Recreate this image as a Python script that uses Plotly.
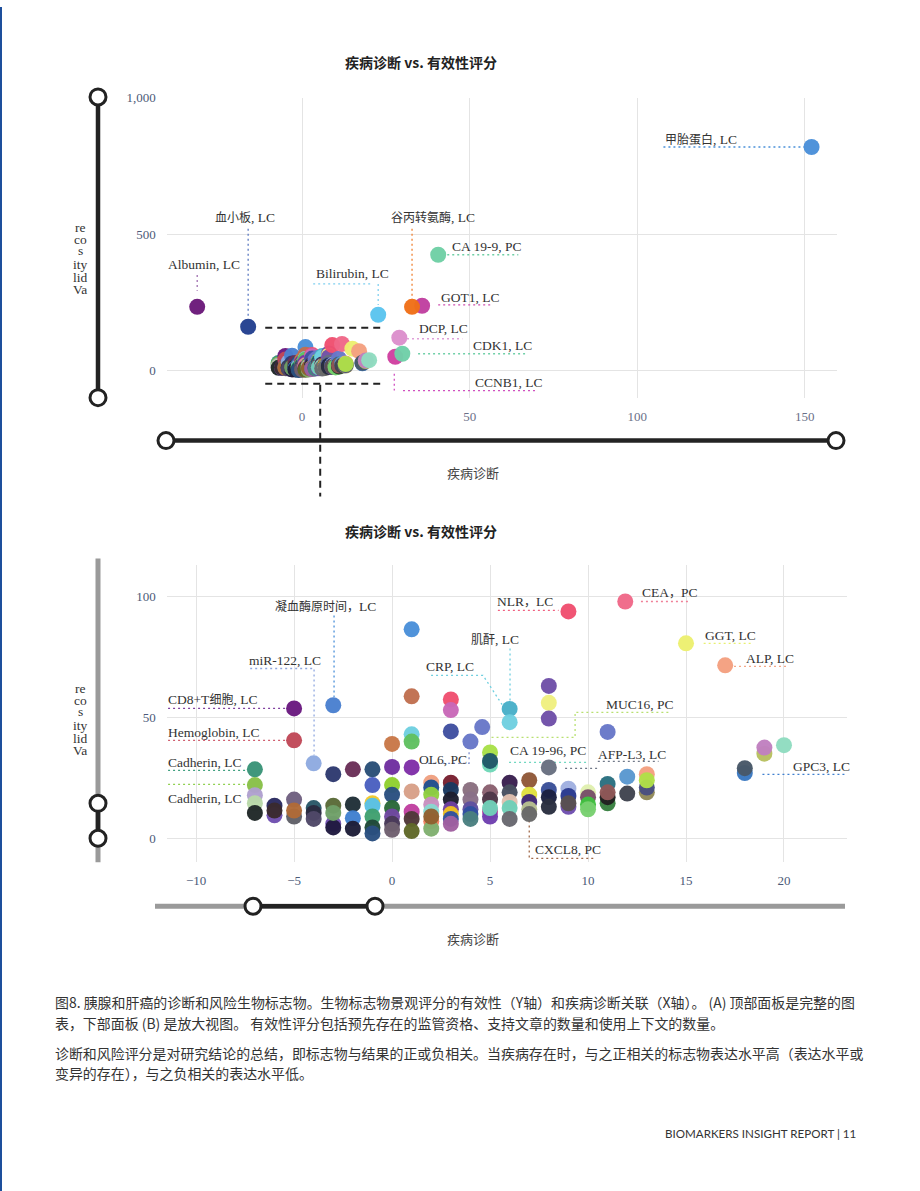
import re
import plotly.graph_objects as go

W, H = 920, 1191

# ---------------- data ----------------
point_x = [152, 40.6, -31.3, -16.1, 22.7, 35.8, 32.8, 29.0, 27.8, 29.9,
           -7, -7, -7, -7, -7,
           -6, -6, -6,
           -5, -5, -5, -5, -5,
           -4, -4, -4, -4,
           -3, -3, -3, -3, -3, -3,
           -2, -2, -2, -2,
           -1, -1, -1, -1, -1, -1, -1,
           0, 0, 0, 0, 0, 0, 0, 0,
           1, 1, 1, 1, 1, 1, 1, 1, 1,
           2, 2, 2, 2, 2, 2, 2, 2,
           3, 3, 3, 3, 3, 3, 3, 3, 3, 3,
           4, 4.6, 4, 4, 4, 4, 4,
           5, 5, 5, 5, 5, 5, 5, 5,
           6, 6, 6, 6, 6, 6, 6,
           7, 7, 7, 7, 7,
           8, 8, 8, 8, 8, 8, 8,
           9, 9, 9, 9, 9,
           10, 10, 10, 10,
           11, 11, 11, 11, 11,
           12, 12, 11.9,
           13, 13, 13, 13,
           15, 17, 18, 18, 19, 19, 20]
point_y = [820, 425, 234, 161, 205, 238, 234, 121, 51, 62,
           28.5, 22, 17.8, 14.5, 10.5,
           13.5, 9.5, 11.5,
           53.7, 40.5, 16, 9, 11.5,
           31, 12.5, 10.5, 8,
           55, 26.5, 13.5, 6, 4.5, 10.5,
           28.5, 14, 8.3, 4,
           28.5, 22, 14.5, 13.5, 9, 4.5, 2,
           39, 29.5, 22, 18, 12.5, 9, 6, 3.5,
           86.4, 58.7, 43, 40, 29.3, 19.4, 11, 8, 3,
           23, 21, 18, 14, 11, 7, 4, 9,
           57.4, 53, 44.2, 23, 20, 16, 12, 10, 8, 6,
           40, 46, 20, 16, 12, 10, 8,
           35.5, 30.5, 32, 19, 16, 11, 9, 12.5,
           53.5, 48, 23, 19, 15, 12.5, 8,
           24, 18, 15, 12, 10,
           63, 56, 49.5, 29.3, 20, 17, 13,
           93.8, 20.5, 17.5, 13, 14.5,
           19, 17, 14, 12,
           44, 22.5, 14.5, 17, 19,
           25.5, 18.5, 97.9,
           26.5, 19, 21, 24,
           80.6, 71.5, 27, 29, 35, 37.5, 38.5]
point_color = ["#4a90d9", "#6fcfa5", "#6b1a7a", "#23408f", "#5bc4ee", "#c040a0", "#f07018", "#dc90cc", "#d040a0", "#70d0a8",
               "#3a9478", "#88c048", "#b0a0d0", "#b8d8a8", "#202828",
               "#2a2a60", "#7050b0", "#3a2a2e",
               "#6a1a80", "#c04858", "#706080", "#606068", "#b06a38",
               "#8eaae0", "#2a5868", "#2a2a40", "#504868",
               "#4a80d0", "#2e3a70", "#5a6a38", "#7050b0", "#201a40", "#70a068",
               "#6a3058", "#203038", "#4080d0", "#1e1e38",
               "#2a5078", "#4a60c0", "#f0c830", "#58c0e8", "#40a070", "#204838", "#2a5080",
               "#c87848", "#7030a0", "#90d030", "#2a5080", "#2a6838", "#7048a0", "#483a58", "#706070",
               "#4a90d9", "#c07050", "#70d0e0", "#60c060", "#8030a8", "#d8a088", "#c040a0", "#503838", "#606828",
               "#f0a080", "#205090", "#90d040", "#c890c0", "#88d8d0", "#f08060", "#80b070", "#906030",
               "#f05070", "#c868b8", "#4050a0", "#782030", "#1a3860", "#1e1e30", "#7040a0", "#f0c020", "#3050a0", "#a060a0",
               "#6878c8", "#6878c8", "#8a7080", "#8a7088", "#6050a0", "#3050a0", "#4a8080",
               "#a8e048", "#70d8b8", "#205868", "#8a6070", "#503848", "#c040a0", "#7040b0", "#70d0b8",
               "#48b0c8", "#70d0e0", "#3a2050", "#485060", "#e0c0b0", "#70d0b8", "#686870",
               "#905838", "#e0e040", "#402878", "#b8c090", "#686868",
               "#7050a8", "#f0f080", "#7050a8", "#687080", "#3a5098", "#1a2040", "#2a3040",
               "#f05070", "#a0b0e0", "#2a3a90", "#7050b0", "#585050",
               "#e0f0b0", "#785068", "#40c040", "#78d070",
               "#6878c8", "#2a7080", "#388040", "#202020", "#905858",
               "#5a98d0", "#404450", "#f06888",
               "#f4a080", "#908858", "#485080", "#b0e048",
               "#ecf070", "#f4a080", "#3a78c0", "#485868", "#b8c060", "#c080c0", "#90dcc0"]

# labels (text, x, y, anchor)
top_label_text = ["甲胎蛋白, LC", "CA 19-9, PC", "血小板, LC", "谷丙转氨酶, LC", "Albumin, LC",
                  "Bilirubin, LC", "GOT1, LC", "DCP, LC", "CDK1, LC", "CCNB1, LC"]
top_label_x = [108.4, 44.8, -17.0, 39.1, -29.3, 14.9, 41.5, 34.9, 51.0, 51.6]
top_label_y = [849, 454, 560, 560, 388, 355, 267, 154, 91.5, -44]
top_label_anchor = ["left", "left", "center", "center", "center", "center", "left", "left", "left", "left"]

bot_label_text = ["CEA，PC", "NLR，LC", "凝血酶原时间，LC", "肌酐, LC", "CRP, LC", "miR-122, LC",
                  "GGT, LC", "ALP, LC", "MUC16, PC", "CD8+T细胞, LC", "Hemoglobin, LC",
                  "Cadherin, LC", "Cadherin, LC", "OL6, PC", "CA 19-96, PC", "AFP-L3, LC",
                  "CXCL8, PC", "GPC3, LC"]
bot_label_x = [12.76, 5.36, -3.42, 5.26, 2.96, -5.46, 15.97, 18.06, 10.9, -11.43, -11.43,
               -11.43, -11.43, 1.38, 6.02, 10.5, 7.3, 20.46]
bot_label_y = [101.7, 97.9, 95.9, 82.2, 71.1, 73.6, 83.9, 74.4, 55.4, 57.4, 43.8,
               31.4, 16.5, 32.6, 36.4, 34.7, -4.5, 29.8]
bot_label_anchor = ["left", "left", "center", "center", "center", "center", "left", "left", "left",
                    "left", "left", "left", "left", "left", "left", "left", "left", "left"]

# leader lines (colour, polyline points in data units)
top_leaders = [
    ("#4a90d9", [(107.8, 820), (150, 820)]),
    ("#6fcfa5", [(43.3, 425), (64.5, 425)]),
    ("#5a78c0", [(-16.1, 520), (-16.1, 198)]),
    ("#f08030", [(32.8, 520), (32.8, 263)]),
    ("#a070b0", [(-31.3, 351), (-31.3, 293)]),
    ("#80d0f0", [(3.3, 318), (20.9, 318)]),
    ("#80d0f0", [(22.7, 318), (22.7, 241)]),
    ("#d050b0", [(40.6, 241), (57, 241)]),
    ("#e0a0d8", [(31.3, 117), (47.8, 117)]),
    ("#70d0a8", [(34.6, 62), (66.6, 62)]),
    ("#d050c0", [(27.5, -11), (27.5, -73)]),
    ("#d050c0", [(30.1, -73), (70.1, -73)]),
]
bot_leaders = [
    ("#f08098", [(12.7, 97.9), (15.1, 97.9)]),
    ("#f06080", [(5.4, 94.2), (8.5, 94.2)]),
    ("#4a90d9", [(-2.96, 92.1), (-2.96, 58.3)]),
    ("#70d0e0", [(6.02, 78.5), (6.02, 57)]),
    ("#70d0e0", [(1.99, 67.4), (4.64, 67.4), (5.71, 54.1)]),
    ("#90a8e0", [(-7.24, 70.2), (-3.98, 70.2), (-3.98, 34.3)]),
    ("#e8f070", [(15.9, 80.6), (18.3, 80.6)]),
    ("#f4a888", [(17.45, 71.1), (20.2, 71.1)]),
    ("#b8e070", [(14.1, 52.1), (9.34, 52.1), (9.34, 41.7), (5.05, 41.7)]),
    ("#8040a0", [(-11.43, 53.7), (-5.3, 53.7)]),
    ("#d06070", [(-11.43, 40.5), (-5.3, 40.5)]),
    ("#40a080", [(-11.43, 28.1), (-7.45, 28.1)]),
    ("#90d050", [(-11.43, 22.3), (-7.45, 22.3)]),
    ("#8090d0", [(1.84, 31), (3.93, 31), (3.93, 36.4)]),
    ("#70d8c0", [(5.97, 31.4), (9.9, 31.4)]),
    ("#707888", [(8.83, 28.9), (10.55, 28.9)]),
    ("#707888", [(10.5, 31.8), (13.6, 31.8)]),
    ("#a06848", [(7, 19.8), (7, -8.3), (10.4, -8.3)]),
    ("#4080d0", [(18.9, 26.4), (23.2, 26.4)]),
]

top_xticks = [0, 50, 100, 150]
top_yticks = [0, 500, 1000]
top_yticktext = ["0", "500", "1,000"]
bot_xticks = [-10, -5, 0, 5, 10, 15, 20]
bot_yticks = [0, 50, 100]

title_text = "<b>疾病诊断 vs. 有效性评分</b>"
xtitle_text = "疾病诊断"
ytitle_lines = ["re", "co", "s", "ity", "lid", "Va"]

caption_lines = [
    "图8. 胰腺和肝癌的诊断和风险生物标志物。生物标志物景观评分的有效性（Y轴）和疾病诊断关联（X轴）。 (A) 顶部面板是完整的图",
    "表，下部面板 (B) 是放大视图。 有效性评分包括预先存在的监管资格、支持文章的数量和使用上下文的数量。",
    "诊断和风险评分是对研究结论的总结，即标志物与结果的正或负相关。当疾病存在时，与之正相关的标志物表达水平高（表达水平或",
    "变异的存在），与之负相关的表达水平低。",
]
footer_text = "BIOMARKERS INSIGHT REPORT | 11"

# ---------------- helpers ----------------
def px(x):
    return x / W

def py(y):
    # empirical vertical correction for the rendered page
    return 1 - ((y - 6) / 0.995) / H

CJK_RUN = re.compile(r"([\u3000-\u303f\u4e00-\u9fff\uff00-\uffef]+)")

def label_markup(t):
    return CJK_RUN.sub(r'<span style="font-size:12px">\1</span>', t)

SERIF = "Liberation Serif, Noto Sans CJK SC, serif"
SANS = "Noto Sans CJK SC, Noto Sans, sans-serif"

fig = go.Figure()
for xa, ya in (("x", "y"), ("x2", "y2")):
    fig.add_trace(go.Scatter(
        x=point_x, y=point_y, mode="markers", xaxis=xa, yaxis=ya,
        marker=dict(size=16, color=point_color, opacity=0.97, line=dict(width=0)),
        hoverinfo="skip", showlegend=False))

axis_common = dict(showgrid=True, gridcolor="#e4e4e4", gridwidth=1, zeroline=False,
                   showline=False, ticks="", fixedrange=True)
fig.update_layout(
    width=W, height=H, margin=dict(l=0, r=0, t=0, b=0),
    plot_bgcolor="white", paper_bgcolor="white", showlegend=False,
    xaxis=dict(domain=[px(166.7), px(836.7)], range=[-40.4, 159.5], anchor="y",
               tickvals=top_xticks, tickfont=dict(family=SERIF, size=13, color="#6a7088"),
               ticklabelstandoff=9, **axis_common),
    yaxis=dict(domain=[py(397), py(96.7)], range=[-99, 1001], anchor="x",
               tickvals=top_yticks, ticktext=top_yticktext,
               tickfont=dict(family=SERIF, size=13, color="#4c5a78"),
               ticklabelstandoff=10, **axis_common),
    xaxis2=dict(domain=[px(166.7), px(846.7)], range=[-11.5, 23.2], anchor="y2",
                tickvals=bot_xticks, tickfont=dict(family=SERIF, size=13, color="#4c5a78"),
                ticklabelstandoff=9, **axis_common),
    yaxis2=dict(domain=[py(862), py(564)], range=[-9.9, 113.2], anchor="x2",
                tickvals=bot_yticks, tickfont=dict(family=SERIF, size=13, color="#4c5a78"),
                ticklabelstandoff=10, **axis_common),
)

shapes = []
annotations = []

# leader lines
for leaders, xr, yr in ((top_leaders, "x", "y"), (bot_leaders, "x2", "y2")):
    for col, pts in leaders:
        path = "M " + " L ".join(f"{a},{b}" for a, b in pts)
        shapes.append(dict(type="path", path=path, xref=xr, yref=yr, layer="between",
                           line=dict(color=col, width=1.3, dash="2px,3px")))

# labels
for texts, xs, ys, anchors, xr, yr in (
        (top_label_text, top_label_x, top_label_y, top_label_anchor, "x", "y"),
        (bot_label_text, bot_label_x, bot_label_y, bot_label_anchor, "x2", "y2")):
    for t, a, b, anc in zip(texts, xs, ys, anchors):
        annotations.append(dict(text=label_markup(t), x=a, y=b, xref=xr, yref=yr, showarrow=False,
                                xanchor=anc, yanchor="middle", borderpad=0, borderwidth=0,
                                font=dict(family=SERIF, size=13.5, color="#333333")))

# dashed zoom box on top panel
for yv in (157, -48):
    shapes.append(dict(type="line", xref="x", yref="y", x0=-11, x1=23.3, y0=yv, y1=yv,
                       line=dict(color="#222222", width=2, dash="7px,5px")))
shapes.append(dict(type="line", xref="x", yref="paper", x0=5.4, x1=5.4, y0=py(384), y1=py(496),
                   line=dict(color="#222222", width=2, dash="7px,5px")))

# slider decorations
def seg(x0, y0, x1, y1, col, w):
    shapes.append(dict(type="line", xref="paper", yref="paper", x0=px(x0), x1=px(x1),
                       y0=py(y0), y1=py(y1), line=dict(color=col, width=w)))

def knob(cx, cy, r=8):
    shapes.append(dict(type="circle", xref="paper", yref="paper",
                       x0=px(cx - r), x1=px(cx + r), y0=py(cy + r), y1=py(cy - r),
                       fillcolor="white", line=dict(color="#222222", width=3)))

DARK = "#232323"
GREY = "#9a9a9a"
seg(98, 96, 98, 397, DARK, 4.5)
knob(98, 96); knob(98, 397)
seg(166, 440, 836, 440, DARK, 4.5)
knob(166, 440); knob(836, 440)
seg(98, 558, 98, 862, GREY, 5)
seg(98, 803, 98, 838, DARK, 4.5)
knob(98, 803); knob(98, 838)
seg(155, 906, 845, 906, GREY, 5)
seg(253, 906, 375, 906, DARK, 4.5)
knob(253, 906); knob(375, 906)

# page edge
shapes.append(dict(type="rect", xref="paper", yref="paper", x0=0, x1=px(2), y0=0, y1=1,
                   fillcolor="#1d4f9c", line=dict(width=0)))

# titles
for ty in (61, 530):
    annotations.append(dict(text=title_text, x=px(421), y=py(ty), xref="paper", yref="paper",
                            showarrow=False, xanchor="center", yanchor="middle",
                            font=dict(family=SANS, size=14, color="#222222")))
for ty in (472, 938):
    annotations.append(dict(text=xtitle_text, x=px(473), y=py(ty), xref="paper", yref="paper",
                            showarrow=False, xanchor="center", yanchor="middle",
                            font=dict(family=SANS, size=13, color="#444444")))
for base in (0, 461):
    for t, yy in zip(ytitle_lines, (227, 239, 250, 264, 277, 289)):
        annotations.append(dict(text=t, x=px(80), y=py(yy + base), xref="paper", yref="paper",
                                showarrow=False, xanchor="center", yanchor="middle",
                                borderpad=0, borderwidth=0,
                                font=dict(family=SERIF, size=13.5, color="#333333")))

for t, yy in zip(caption_lines, (1002, 1023, 1053, 1073)):
    annotations.append(dict(text=t, x=px(55), y=py(yy), xref="paper", yref="paper",
                            showarrow=False, xanchor="left", yanchor="middle",
                            borderpad=0, borderwidth=0,
                            font=dict(family=SANS, size=13.95, color="#333333")))

annotations.append(dict(text=footer_text, x=px(856), y=py(1133), xref="paper", yref="paper",
                        showarrow=False, xanchor="right", yanchor="middle",
                        borderpad=0, borderwidth=0,
                        font=dict(family="Lato, sans-serif", size=11.6, color="#333333")))

fig.update_layout(shapes=shapes, annotations=annotations)
fig.write_html("out.html")
